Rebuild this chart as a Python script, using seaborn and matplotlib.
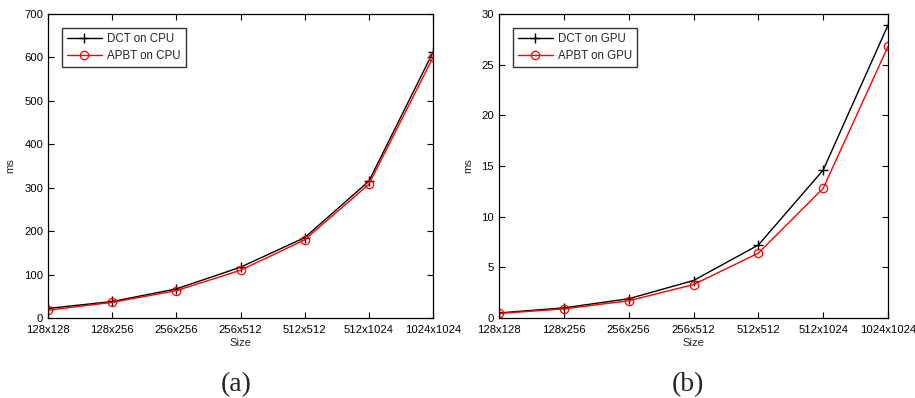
import matplotlib
matplotlib.use("Agg")
import matplotlib.pyplot as plt
import seaborn as sns
import pandas as pd

sizes = ["128x128", "128x256", "256x256", "256x512", "512x512", "512x1024", "1024x1024"]
dct_cpu = [22, 38, 67, 117, 185, 315, 612]
apbt_cpu = [18, 36, 63, 110, 180, 308, 600]
dct_gpu = [0.5, 1.0, 1.9, 3.7, 7.2, 14.6, 28.9]
apbt_gpu = [0.45, 0.9, 1.7, 3.3, 6.4, 12.8, 26.8]

sns.set_theme(style="white")
plt.rcParams["font.family"] = ["Liberation Sans", "DejaVu Sans"]

fig = plt.figure(figsize=(9.15, 3.98), dpi=100)
ax_a = fig.add_axes([48/915, 1-318/398, 385/915, 304/398])
ax_b = fig.add_axes([499/915, 1-318/398, 389/915, 304/398])

pos = list(range(len(sizes)))
FS = 8.1

def draw(ax, d1, d2, lab1, lab2, ymax, yticks):
    df1 = pd.DataFrame({"x": pos, "y": d1})
    df2 = pd.DataFrame({"x": pos, "y": d2})
    sns.lineplot(data=df1, x="x", y="y", ax=ax, color="black", lw=1.0,
                 marker="+", markersize=7, markeredgewidth=1.0,
                 markeredgecolor="black", label=lab1)
    sns.lineplot(data=df2, x="x", y="y", ax=ax, color="red", lw=1.0,
                 marker="o", markersize=6, markerfacecolor="none",
                 markeredgecolor="red", markeredgewidth=0.9, label=lab2)
    ax.set_xlim(0, 6)
    ax.set_ylim(0, ymax)
    ax.set_xticks(pos)
    ax.set_xticklabels(sizes, fontsize=FS)
    ax.set_yticks(yticks)
    ax.set_yticklabels([str(t) for t in yticks], fontsize=FS)
    ax.set_xlabel("Size", fontsize=FS, labelpad=2.5)
    ax.set_ylabel("ms", fontsize=FS, labelpad=6)
    ax.tick_params(direction="in", length=4, width=0.8, top=True, right=True,
                   bottom=True, left=True, colors="black")
    ax.tick_params(axis="x", pad=5)
    ax.tick_params(axis="y", pad=3.5)
    for s in ax.spines.values():
        s.set_color("black")
        s.set_linewidth(0.9)
    bw = ax.get_position().width * 915
    leg = ax.legend(loc="upper left", bbox_to_anchor=(14/bw, 1-14/304), fontsize=8.3,
                    frameon=True, fancybox=False, edgecolor="black",
                    handlelength=3.0, handletextpad=0.45, borderpad=0.45,
                    labelspacing=0.4, borderaxespad=0)
    leg.get_frame().set_linewidth(1.0)

draw(ax_a, dct_cpu, apbt_cpu, "DCT on CPU", "APBT on CPU", 700,
     [0, 100, 200, 300, 400, 500, 600, 700])
draw(ax_b, dct_gpu, apbt_gpu, "DCT on GPU", "APBT on GPU", 30,
     [0, 5, 10, 15, 20, 25, 30])

fig.text(236/915, 1-385/398, "(a)", fontsize=20, family=["Liberation Serif", "DejaVu Serif"],
         ha="center", va="center")
fig.text(688/915, 1-385/398, "(b)", fontsize=20, family=["Liberation Serif", "DejaVu Serif"],
         ha="center", va="center")

fig.savefig("out.png", dpi=100, facecolor="white")
